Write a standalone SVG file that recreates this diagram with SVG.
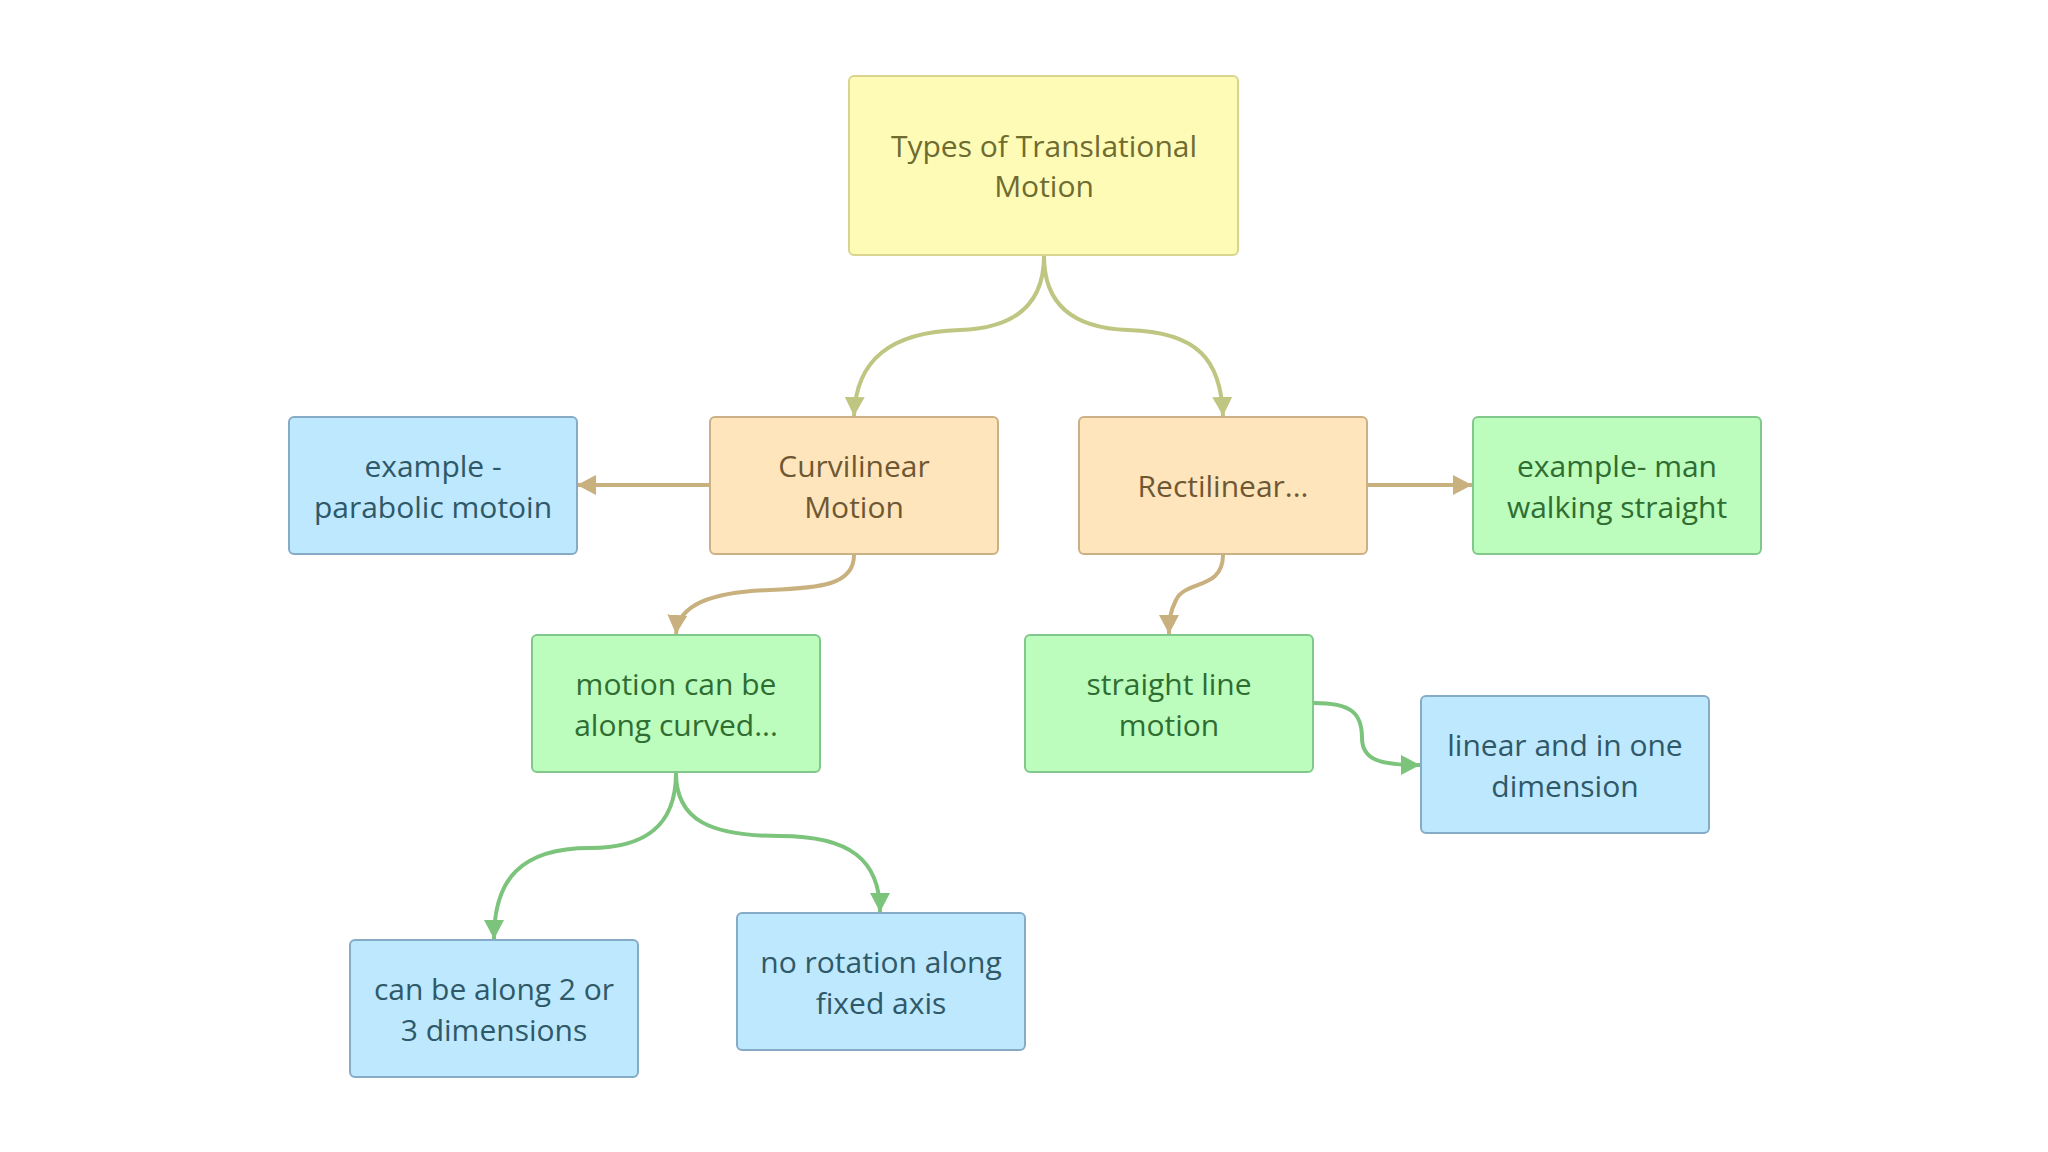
<svg xmlns="http://www.w3.org/2000/svg" width="2048" height="1152" viewBox="0 0 2048 1152">
<defs>
<style>
.n rect{stroke-width:2}
.y rect{fill:#fefbb6;stroke:#d9d590}
.o rect{fill:#ffe5bb;stroke:#cbb085}
.b rect{fill:#bde8fd;stroke:#86abc6}
.g rect{fill:#bcfcbc;stroke:#82c88c}
text{font-family:"Open Sans","Noto Sans",sans-serif;font-size:30px;text-anchor:middle}
.y text{fill:#6e6c30}
.o text{fill:#6e5834}
.b text{fill:#2f5868}
.g text{fill:#2f6d33}
.e{fill:none;stroke-width:4}
.eo{stroke:#bfc681}
.et{stroke:#c8b07f}
.eg{stroke:#7cc37c}
</style>
<marker id="ao" markerUnits="userSpaceOnUse" markerWidth="22" markerHeight="22" refX="19" refY="10" orient="auto"><path d="M0,0 L19,10 L0,20 Z" fill="#bfc681"/></marker>
<marker id="at" markerUnits="userSpaceOnUse" markerWidth="22" markerHeight="22" refX="19" refY="10" orient="auto"><path d="M0,0 L19,10 L0,20 Z" fill="#c8b07f"/></marker>
<marker id="ag" markerUnits="userSpaceOnUse" markerWidth="22" markerHeight="22" refX="19" refY="10" orient="auto"><path d="M0,0 L19,10 L0,20 Z" fill="#7cc37c"/></marker>
</defs>
<rect width="2048" height="1152" fill="#ffffff"/>
<g id="connectors">
<path class="e eo" d="M1044,256 C1044,300 1020,328 960,330 C890,332 856,360 854,416" marker-end="url(#ao)"/>
<path class="e eo" d="M1044,256 C1044,300 1068,328 1128,330 C1198,332 1221,360 1223,416" marker-end="url(#ao)"/>
<path class="e et" d="M710,485 L577,485" marker-end="url(#at)"/>
<path class="e et" d="M1367,485 L1472,485" marker-end="url(#at)"/>
<path class="e et" d="M854,555 C854,585 820,588 770,590 C710,592 678,605 676,634" marker-end="url(#at)"/>
<path class="e et" d="M1223,555 C1223,590 1185,580 1176,600 C1170,612 1169,620 1169,634" marker-end="url(#at)"/>
<path class="e eg" d="M676,773 C676,830 640,848 590,848 C520,848 494,880 494,939" marker-end="url(#ag)"/>
<path class="e eg" d="M676,773 C676,820 710,836 780,836 C850,836 880,860 880,912" marker-end="url(#ag)"/>
<path class="e eg" d="M1314,703 C1350,703 1362,712 1362,738 C1362,760 1380,765 1420,765" marker-end="url(#ag)"/>
</g>
<g id="n-types" class="n y"><rect x="849" y="76" width="389" height="179" rx="5"/><text x="1044" y="157">Types of Translational</text><text x="1044" y="197">Motion</text></g>
<g id="n-parabolic" class="n b"><rect x="289" y="417" width="288" height="137" rx="5"/><text x="433" y="477">example -</text><text x="433" y="518">parabolic motoin</text></g>
<g id="n-curvilinear" class="n o"><rect x="710" y="417" width="288" height="137" rx="5"/><text x="854" y="477">Curvilinear</text><text x="854" y="518">Motion</text></g>
<g id="n-rectilinear" class="n o"><rect x="1079" y="417" width="288" height="137" rx="5"/><text x="1223" y="497">Rectilinear...</text></g>
<g id="n-man" class="n g"><rect x="1473" y="417" width="288" height="137" rx="5"/><text x="1617" y="477">example- man</text><text x="1617" y="518">walking straight</text></g>
<g id="n-curved" class="n g"><rect x="532" y="635" width="288" height="137" rx="5"/><text x="676" y="695">motion can be</text><text x="676" y="736">along curved...</text></g>
<g id="n-straight" class="n g"><rect x="1025" y="635" width="288" height="137" rx="5"/><text x="1169" y="695">straight line</text><text x="1169" y="736">motion</text></g>
<g id="n-linear" class="n b"><rect x="1421" y="696" width="288" height="137" rx="5"/><text x="1565" y="756">linear and in one</text><text x="1565" y="797">dimension</text></g>
<g id="n-dims" class="n b"><rect x="350" y="940" width="288" height="137" rx="5"/><text x="494" y="1000">can be along 2 or</text><text x="494" y="1041">3 dimensions</text></g>
<g id="n-rotation" class="n b"><rect x="737" y="913" width="288" height="137" rx="5"/><text x="881" y="973">no rotation along</text><text x="881" y="1014">fixed axis</text></g>
</svg>
